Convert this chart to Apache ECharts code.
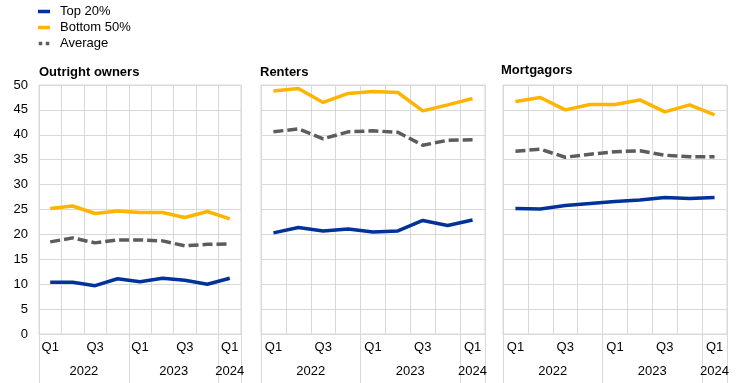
<!DOCTYPE html>
<html><head><meta charset="utf-8">
<script src="https://cdn.jsdelivr.net/npm/echarts@6/dist/echarts.min.js"></script>
<style>html,body{margin:0;padding:0;background:#fff}#c{width:744px;height:383px}</style>
</head><body><div id="c"></div>
<script>
var quarters = ['Q1','Q2','Q3','Q4','Q1','Q2','Q3','Q4','Q1'];
var yearLabels = ['2022','2023','2024'];
var yearCenters = [2, 6, 8.5];
var yearBounds = [0, 4, 8, 9];
var panelTitles = ['Outright owners','Renters','Mortgagors'];
var seriesNames = ['Top 20%','Bottom 50%','Average'];

var ownersTop = [10.4,10.4,9.7,11.1,10.5,11.2,10.8,10.0,11.2];
var ownersBottom = [25.2,25.7,24.2,24.7,24.4,24.4,23.4,24.6,23.1];
var ownersAvg = [18.5,19.3,18.3,18.9,18.9,18.7,17.7,18.0,18.1];

var rentersTop = [20.3,21.4,20.7,21.1,20.5,20.7,22.8,21.8,22.9];
var rentersBottom = [48.8,49.3,46.5,48.3,48.7,48.5,44.8,46.0,47.3];
var rentersAvg = [40.6,41.2,39.2,40.6,40.8,40.5,37.9,38.9,39.0];

var mortTop = [25.2,25.1,25.8,26.2,26.6,26.9,27.4,27.2,27.4];
var mortBottom = [46.7,47.5,45.0,46.1,46.1,47.0,44.6,46.0,44.0];
var mortAvg = [36.7,37.1,35.5,36.1,36.6,36.8,35.9,35.6,35.6];

var panelData = [
  [ownersTop, ownersBottom, ownersAvg],
  [rentersTop, rentersBottom, rentersAvg],
  [mortTop, mortBottom, mortAvg]
];
var colors = ['#003299','#FFB400','#5C5C5C'];
var gridLines = '#d9d9d9';
var font = 'Arial, "Liberation Sans", sans-serif';

var grids = [
  {left: 39, width: 202, top: 85, bottom: 49},
  {left: 261, width: 224, top: 85, bottom: 49},
  {left: 503, width: 224, top: 85, bottom: 49}
];
var titleLefts = [39, 260, 501];

var option = {
  animation: false,
  backgroundColor: '#fff',
  textStyle: {fontFamily: font},
  legend: {
    orient: 'vertical', left: 38, top: 5, itemGap: 3, padding: 0,
    itemWidth: 12, itemHeight: 3.5,
    textStyle: {fontSize: 13, color: '#000', fontFamily: font, padding: [0,0,0,5]},
    data: [
      {name: 'Top 20%', icon: 'rect'},
      {name: 'Bottom 50%', icon: 'rect'},
      {name: 'Average', icon: 'path://M0,0h3.5v3.5h-3.5z M7,0h3.5v3.5h-3.5z'}
    ]
  },
  title: panelTitles.map(function(t, i){
    return {text: t, left: titleLefts[i], top: i === 2 ? 64 : 66, padding: 0,
      textStyle: {fontSize: 13, fontWeight: 'bold', color: '#000', fontFamily: font}};
  }),
  grid: grids.map(function(g){
    return Object.assign({show: true, borderColor: gridLines, borderWidth: 1, containLabel: false}, g);
  }),
  xAxis: [],
  yAxis: [],
  series: []
};

for (var i = 0; i < 3; i++) {
  option.xAxis.push({
    type: 'category', gridIndex: i, data: quarters, boundaryGap: true,
    axisLine: {show: true, lineStyle: {color: gridLines}},
    axisTick: {show: false},
    splitLine: {show: true, interval: 0, lineStyle: {color: gridLines}},
    axisLabel: {interval: function(idx){ return idx % 2 === 0; }, margin: 7,
      fontSize: 13, color: '#000', fontFamily: font}
  });
  option.xAxis.push({
    type: 'value', gridIndex: i, min: 0, max: 9, position: 'bottom',
    axisLine: {show: false},
    splitLine: {show: false},
    axisTick: {show: true, customValues: yearBounds, length: 50, lineStyle: {color: gridLines}},
    axisLabel: {show: true, customValues: yearCenters, margin: 31, fontSize: 13, color: '#000', fontFamily: font,
      formatter: function(v){ var k = yearCenters.indexOf(v); return k >= 0 ? yearLabels[k] : ''; }}
  });
  option.yAxis.push({
    type: 'value', gridIndex: i, min: 0, max: 50, interval: 5,
    axisLine: {show: false}, axisTick: {show: false},
    splitLine: {show: true, lineStyle: {color: gridLines}},
    axisLabel: {show: i === 0, margin: 11, fontSize: 13, color: '#000', fontFamily: font}
  });
  for (var s = 0; s < 3; s++) {
    option.series.push({
      name: seriesNames[s], type: 'line', xAxisIndex: i * 2, yAxisIndex: i,
      data: panelData[i][s], symbol: 'none', z: 3 + (s === 2 ? 0 : 1),
      lineStyle: {color: colors[s], width: 3.5, type: s === 2 ? [10, 4] : 'solid'},
      itemStyle: {color: colors[s]}
    });
  }
}

var chart = echarts.init(document.getElementById('c'), null, {renderer: 'canvas'});
chart.setOption(option);
</script>
</body></html>
